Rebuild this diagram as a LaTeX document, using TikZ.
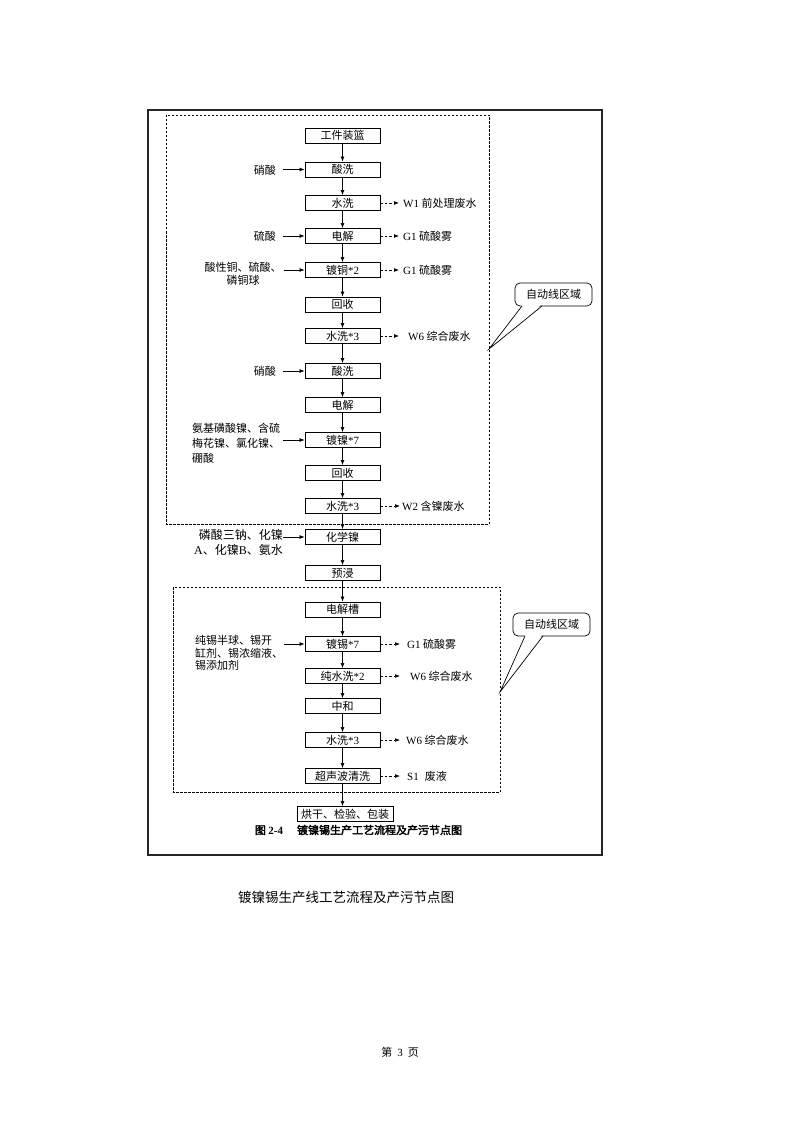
\documentclass[tikz,border=0pt]{standalone}
\usepackage{fontspec}
\setmainfont{Noto Sans CJK SC}
\newfontfamily\lat{Liberation Serif}
\newfontfamily\capb[FakeBold=2.5]{Noto Sans CJK SC}
\usetikzlibrary{arrows.meta}
\tikzset{
  stepbox/.style={draw, line width=0.8pt, minimum width=75pt, minimum height=15pt, inner sep=0pt, font=\fontsize{11}{12}\selectfont},
  flow/.style={-{Latex[length=5pt,width=3.8pt]}, line width=0.6pt},
  outflow/.style={flow, dash pattern=on 2.5pt off 2pt},
  intext/.style={inner sep=0pt, font=\fontsize{11}{15}\selectfont},
  outtext/.style={inner sep=0pt, anchor=west, font=\fontsize{11}{12}\selectfont},
  zone/.style={dash pattern=on 2.5pt off 1.5pt, line width=0.9pt},
  callbox/.style={draw, fill=white, line width=0.7pt, rounded corners=5pt},
  calltext/.style={inner sep=0pt, font=\fontsize{11}{12}\selectfont}
}
\begin{document}
\begin{tikzpicture}[x=1pt,y=-1pt]
\fill[white] (0,0) rectangle (794,1123);
\useasboundingbox (0,0) rectangle (794,1123);

% outer frame
\draw[line width=1.3pt, black!85] (148,110) rectangle (602,855);
% automatic-line zones
\draw[zone] (166,115) rectangle (489,524);
\draw[zone] (173,587) rectangle (500,792);

% process boxes
\node[stepbox] (b1)  at (342.5,135.5) {工件装篮};
\node[stepbox] (b2)  at (342.5,169.5) {酸洗};
\node[stepbox] (b3)  at (342.5,203)   {水洗};
\node[stepbox] (b4)  at (342.5,236)   {电解};
\node[stepbox] (b5)  at (342.5,270)   {镀铜{\lat *2}};
\node[stepbox] (b6)  at (342.5,304.5) {回收};
\node[stepbox] (b7)  at (342.5,336)   {水洗{\lat *3}};
\node[stepbox] (b8)  at (342.5,371)   {酸洗};
\node[stepbox] (b9)  at (342.5,405)   {电解};
\node[stepbox] (b10) at (342.5,440)   {镀镍{\lat *7}};
\node[stepbox] (b11) at (342.5,473)   {回收};
\node[stepbox] (b12) at (342.5,506)   {水洗{\lat *3}};
\node[stepbox] (b13) at (342.5,537)   {化学镍};
\node[stepbox] (b14) at (342.5,573)   {预浸};
\node[stepbox] (b15) at (342.5,609.5) {电解槽};
\node[stepbox] (b16) at (342.5,644)   {镀锡{\lat *7}};
\node[stepbox] (b17) at (342.5,676)   {纯水洗{\lat *2}};
\node[stepbox] (b18) at (342.5,706)   {中和};
\node[stepbox] (b19) at (342.5,740)   {水洗{\lat *3}};
\node[stepbox] (b20) at (342.5,776)   {超声波清洗};
\node[stepbox, minimum width=96pt] (b21) at (345,814) {烘干、检验、包装};

\foreach \a/\b in {1/2,2/3,3/4,4/5,5/6,6/7,7/8,8/9,9/10,10/11,11/12,12/13,13/14,14/15,15/16,16/17,17/18,18/19,19/20,20/21}
  \draw[flow] (b\a.south) -- (b\a.south |- b\b.north);

% inputs
\node[intext, anchor=east] (i1) at (276,170) {硝酸};
\draw[flow, shorten <=7pt] (i1.east |- b2.west) -- (b2.west);
\node[intext, anchor=east] (i2) at (276,236) {硫酸};
\draw[flow, shorten <=7pt] (i2.east |- b4.west) -- (b4.west);
\node[intext, align=center, font=\fontsize{11}{12.5}\selectfont] (i3) at (243,274) {酸性铜、硫酸、\\磷铜球};
\draw[flow, shorten <=2pt] (i3.east |- b5.west) -- (b5.west);
\node[intext, anchor=east] (i4) at (276,371) {硝酸};
\draw[flow, shorten <=7pt] (i4.east |- b8.west) -- (b8.west);
\node[intext, anchor=west, align=left] (i5) at (192,443) {氨基磺酸镍、含硫\\梅花镍、氯化镍、\\硼酸};
\draw[flow, shorten <=3pt] (i5.east |- b10.west) -- (b10.west);
\node[intext, anchor=east, align=right, font=\fontsize{12}{15}\selectfont] (i6) at (283,542) {磷酸三钠、化镍\\{\lat A}、化镍{\lat B}、氨水};
\draw[flow] (i6.east |- b13.west) -- (b13.west);
\node[intext, anchor=west, align=left, font=\fontsize{11}{12.5}\selectfont] (i7) at (195,653) {纯锡半球、锡开\\缸剂、锡浓缩液、\\锡添加剂};
\draw[flow, shorten <=1pt] (i7.east |- b16.west) -- (b16.west);

% outputs
\node[outtext] (o1) at (403,203) {{\lat W1} 前处理废水};
\draw[outflow, shorten >=4pt] (b3.east) -- (o1.west);
\node[outtext] (o2) at (403,236) {{\lat G1} 硫酸雾};
\draw[outflow, shorten >=4pt] (b4.east) -- (o2.west);
\node[outtext] (o3) at (403,270) {{\lat G1} 硫酸雾};
\draw[outflow, shorten >=4pt] (b5.east) -- (o3.west);
\node[outtext] (o4) at (408,336) {{\lat W6} 综合废水};
\draw[outflow, shorten >=9pt] (b7.east) -- (o4.west);
\node[outtext] (o5) at (402,506) {{\lat W2} 含镍废水};
\draw[outflow, shorten >=2pt] (b12.east) -- (o5.west);
\node[outtext] (o6) at (407,644) {{\lat G1} 硫酸雾};
\draw[outflow, shorten >=7pt] (b16.east) -- (o6.west);
\node[outtext] (o7) at (410,676) {{\lat W6} 综合废水};
\draw[outflow, shorten >=10pt] (b17.east) -- (o7.west);
\node[outtext] (o8) at (406,740) {{\lat W6} 综合废水};
\draw[outflow, shorten >=6pt] (b19.east) -- (o8.west);
\node[outtext] (o9) at (407,776) {{\lat S1}\hspace{6pt}废液};
\draw[outflow, shorten >=7pt] (b20.east) -- (o9.west);

% callouts
\draw[callbox] (515,283) rectangle (592,306);
\fill[white] (522.6,304) -- (541.6,304) -- (489,349) -- cycle;
\draw[line width=0.7pt] (522,306) -- (489,349) -- (542,306);
\node[calltext] (c1) at (553.5,294.5) {自动线区域};

\draw[callbox] (513,613) rectangle (590,636);
\fill[white] (525.6,634) -- (542.6,634) -- (500,692) -- cycle;
\draw[line width=0.7pt] (525,636) -- (500,692) -- (543,636);
\node[calltext] (c2) at (551.5,624.5) {自动线区域};

% captions
\node[inner sep=0pt, font=\fontsize{11}{12}\selectfont] (cap) at (358.5,830) {\capb 图 {\lat\bfseries 2-4}\hspace{14pt}镀镍锡生产工艺流程及产污节点图};
\node[inner sep=0pt, font=\fontsize{13.5}{15}\selectfont] (title) at (346,897) {镀镍锡生产线工艺流程及产污节点图};
\node[inner sep=0pt, font=\fontsize{11}{12}\selectfont] (page) at (400,1052) {第\hspace{5pt}{\lat 3}\hspace{5pt}页};
\end{tikzpicture}
\end{document}
